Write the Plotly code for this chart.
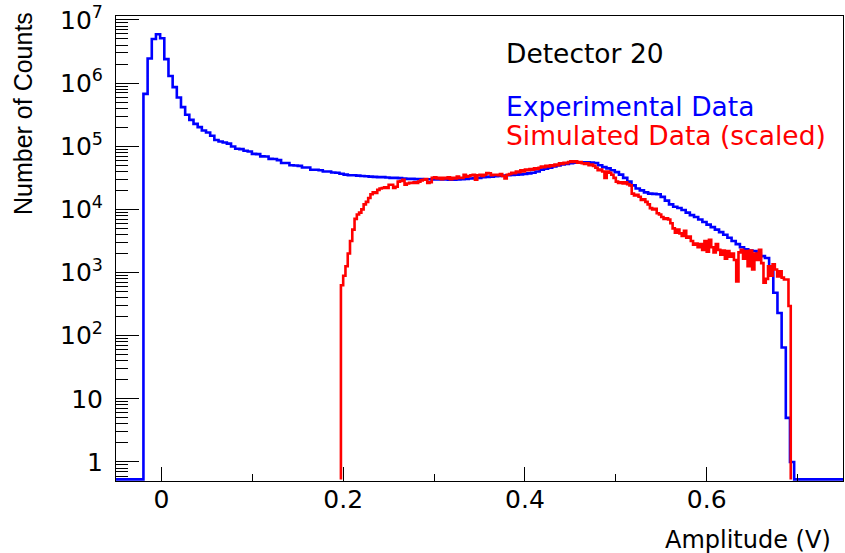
import numpy as np
import plotly.graph_objects as go

# ---------------- data ----------------
# Experimental data (blue): bin start, bin width, counts per bin
BLUE_START = -0.0198
BLUE_WIDTH = 0.00459
blue_counts = [
    676000, 2450000, 5010000, 5940000, 5130000, 2400000, 1300000, 863000, 592000, 417000,
    315000, 262000, 226000, 201000, 178000, 165000, 147000, 126000, 119000, 115000,
    110000, 99300, 91200, 90200, 85100, 82800, 75900, 75000, 69200, 68900,
    63100, 62700, 60300, 54200, 54200, 50100, 49700, 49000, 46200, 46200,
    42500, 42500, 41700, 39800, 39800, 38500, 38000, 36700, 35500, 34700,
    34700, 34300, 33900, 33500, 33100, 32700, 32400, 32400, 32000, 31600,
    31600, 31300, 30900, 30500, 30500, 30200, 30200, 30100, 30100, 29900,
    29900, 29800, 29700, 29600, 29600, 29900, 30100, 30500, 30900, 31300,
    31600, 32400, 32700, 33100, 33500, 33900, 34300, 34700, 35100, 35500,
    35900, 36300, 37200, 38000, 39800, 42700, 44200, 45700, 47900, 49500,
    51300, 52500, 53700, 55000, 55500, 55500, 55500, 55000, 54300, 50100,
    46800, 44700, 41700, 38900, 35500, 31600, 27500, 24000, 21400, 20000,
    18600, 17800, 17600, 17400, 15800, 13800, 12000, 11000, 10500, 9770,
    8910, 8130, 7590, 6920, 6310, 5750, 5250, 4790, 4370, 3980,
    3550, 3160, 2820, 2510, 2340, 2240, 2190, 2000, 1820, 1700,
    1050, 479, 229, 65, 5, 1,
]

# Simulated data (red, scaled)
RED_START = 0.1975
RED_WIDTH = 0.0025
red_counts = [
    631, 891, 1260, 2000, 3160, 4790, 7080, 8320, 8910, 10000,
    12020, 13180, 15140, 17380, 18620, 18200, 20420, 21380, 21880, 22390,
    21880, 24550, 24550, 21880, 22910, 27540, 28180, 29510, 24550, 25700,
    26300, 26300, 26920, 26300, 27540, 28840, 29510, 30200, 26300, 26920,
    31620, 32360, 30900, 31620, 30200, 31620, 30900, 32360, 30200, 31620,
    30900, 33110, 31620, 31620, 35480, 33110, 33880, 34670, 35480, 29510,
    34670, 35480, 33880, 35480, 37670, 37150, 34670, 35480, 35480, 34670,
    36310, 33880, 30900, 35480, 36310, 38020, 37580, 39810, 38900, 41690,
    39810, 42660, 41690, 43650, 42660, 44670, 43650, 45710, 47860, 46770,
    48980, 47860, 50120, 48980, 51290, 50120, 53700, 52480, 54950, 53700,
    56230, 57540, 56230, 57540, 54950, 56230, 53700, 52480, 53700, 50120,
    51290, 48980, 45710, 41690, 42660, 39810, 31620, 39810, 38020, 35480,
    31620, 27540, 26300, 26920, 25700, 26920, 25120, 23990, 17780, 16600,
    16980, 15850, 14130, 14450, 13180, 12020, 10470, 10000, 10230, 8710,
    8320, 7590, 7080, 7240, 6920, 6030, 5010, 4270, 4790, 4170,
    3800, 4570, 3550, 3720, 3160, 2750, 2880, 2510, 2820, 2290,
    3160, 2140, 3310, 2510, 2090, 2820, 2290, 1910, 2240, 1660,
    2190, 1780, 2000, 1580, 724, 2090, 2290, 1660, 2190, 1260,
    2240, 1120, 2000, 1580, 2290, 1410, 692, 794, 1260, 891,
    1350, 1120, 871, 1050, 832, 776, 776, 295,
]

X_RANGE = [-0.05, 0.75]
x_tick_vals = [0, 0.2, 0.4, 0.6]
x_tick_text = ["0", "0.2", "0.4", "0.6"]
y_tick_vals = [1, 10, 100, 1e3, 1e4, 1e5, 1e6, 1e7]
y_tick_text = ["1", "10", "10<sup>2</sup>", "10<sup>3</sup>", "10<sup>4</sup>",
               "10<sup>5</sup>", "10<sup>6</sup>", "10<sup>7</sup>"]
Y_MIN, Y_MAX = 0.5, 1.156e7
EMPTY_LEVEL = 0.53  # where empty bins are drawn (bottom of frame)

# ---------------- build step lines ----------------
nb = len(blue_counts)
b_edges = BLUE_START + BLUE_WIDTH * np.arange(nb + 1)
bx = [X_RANGE[0]] + list(b_edges[:-1]) + [b_edges[-1], X_RANGE[1]]
by = [EMPTY_LEVEL] + list(blue_counts) + [EMPTY_LEVEL, EMPTY_LEVEL]

nr = len(red_counts)
r_edges = RED_START + RED_WIDTH * np.arange(nr + 1)
rx = [r_edges[0]] + list(r_edges[:-1]) + [r_edges[-1]]
ry = [EMPTY_LEVEL] + list(red_counts) + [EMPTY_LEVEL]

fig = go.Figure()
fig.add_trace(go.Scatter(x=bx, y=by, mode="lines", line=dict(color="#0000ff", width=2.6, shape="hv"),
                         name="Experimental Data", showlegend=False, hoverinfo="skip"))
fig.add_trace(go.Scatter(x=rx, y=ry, mode="lines", line=dict(color="#ff0000", width=2.6, shape="hv"),
                         name="Simulated Data (scaled)", showlegend=False, hoverinfo="skip"))

FONT = "DejaVu Sans"
minor_y = [m * 10 ** e for e in range(-1, 7) for m in range(2, 10)]

fig.update_xaxes(
    range=X_RANGE, showline=True, linecolor="black", linewidth=1, mirror=True,
    showgrid=False, zeroline=False, automargin=False,
    tickmode="array", tickvals=x_tick_vals, ticktext=x_tick_text,
    ticks="inside", ticklen=14, tickwidth=1, tickcolor="black",
    tickfont=dict(family=FONT, size=25, color="black"), ticklabelstandoff=-4,
    minor=dict(tickmode="array", tickvals=[0.1, 0.3, 0.5, 0.7], ticks="inside",
               ticklen=7, tickwidth=1, tickcolor="black"),
)
fig.update_yaxes(
    type="log", range=[np.log10(Y_MIN), np.log10(Y_MAX)],
    showline=True, linecolor="black", linewidth=1, mirror=True,
    showgrid=False, zeroline=False, automargin=False,
    tickmode="array", tickvals=y_tick_vals, ticktext=y_tick_text,
    ticks="inside", ticklen=23, tickwidth=1, tickcolor="black",
    tickfont=dict(family=FONT, size=25, color="black"), ticklabelstandoff=7,
    minor=dict(tickmode="array", tickvals=minor_y, ticks="inside",
               ticklen=12, tickwidth=1, tickcolor="black"),
)

L, R, T, B = 116, 2, 16, 72
W, H = 845, 553
pw, ph = W - L - R, H - T - B


def px_x(p):
    return (p - L) / pw


def px_y(p):
    return (H - B - p) / ph


ann = [
    dict(text="Detector 20", x=px_x(504), y=px_y(53), color="black", size=26.5, xanchor="left"),
    dict(text="Experimental Data", x=px_x(504), y=px_y(106.5), color="#0000ff", size=26.5, xanchor="left"),
    dict(text="Simulated Data (scaled)", x=px_x(504), y=px_y(135.5), color="#ff0000", size=26.5, xanchor="left"),
    dict(text="Amplitude (V)", x=px_x(833), y=px_y(540), color="black", size=24, xanchor="right"),
]
for a in ann:
    fig.add_annotation(text=a["text"], xref="paper", yref="paper", x=a["x"], y=a["y"],
                       xanchor=a["xanchor"], yanchor="middle", showarrow=False,
                       font=dict(family=FONT, size=a["size"], color=a["color"]))
fig.add_annotation(text="Number of Counts", xref="paper", yref="paper", x=px_x(23), y=px_y(114),
                   xanchor="center", yanchor="middle", showarrow=False, textangle=-90,
                   font=dict(family="Liberation Sans", size=25, color="black"))

fig.update_layout(
    width=W, height=H, margin=dict(l=L, r=R, t=T, b=B),
    paper_bgcolor="white", plot_bgcolor="white", showlegend=False, hovermode=False,
)
fig.write_html("out.html", config={"displayModeBar": False},
               post_script="document.body.style.margin='0px';")
